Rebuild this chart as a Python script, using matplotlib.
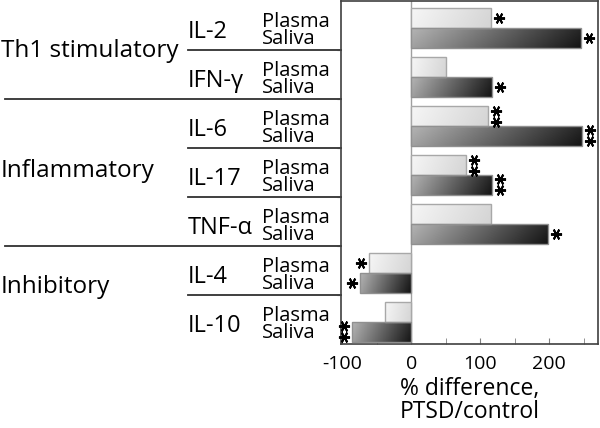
import numpy as np
import matplotlib
matplotlib.use("Agg")
import matplotlib.pyplot as plt
import matplotlib.transforms as mtransforms
from matplotlib.colors import LinearSegmentedColormap

plt.rcParams['font.family'] = ['Open Sans', 'DejaVu Sans']

cytokines = ["IL-2", "IFN-γ", "IL-6", "IL-17", "TNF-α", "IL-4", "IL-10"]
plasma = [115, 51, 112, 80, 116, -62, -38]
saliva = [246, 117, 248, 117, 198, -74, -86]
plasma_stars = [1, 0, 2, 2, 0, 1, 0]
saliva_stars = [1, 1, 2, 2, 1, 1, 2]
groups = ["Th1 stimulatory", "Inflammatory", "Inhibitory"]
group_pos = [0.64, 3.09, 5.46]
sample_labels = ["Plasma", "Saliva"]
xticks_major = [-100, 0, 100, 200]
xticks_minor = [-50, 50, 150, 250]

W, H = 600, 428
fig = plt.figure(figsize=(6, 4.28), dpi=100)
ax = fig.add_axes([341 / W, 1 - 344 / H, (598 - 341) / W, 343 / H])

y = np.arange(len(cytokines))
hgt = 0.4
yp = y - 0.15
ys = y + 0.25

bars_p = ax.barh(yp, plasma, height=hgt, facecolor='none', edgecolor='#a8a8a8', lw=1, zorder=3)
bars_s = ax.barh(ys, saliva, height=hgt, facecolor='none', edgecolor='#909090', lw=1, zorder=3)

cmap_p = LinearSegmentedColormap.from_list('p', ['#f6f6f6', '#d4d4d4'])
cmap_s = LinearSegmentedColormap.from_list('s', ['#b4b4b4', '#141414'])
u = np.linspace(0, 1, 200)[None, :]
v = np.linspace(0, 1, 20)[:, None]
grad = np.clip(0.88 * u + 0.12 * v, 0, 1)

for bars, cmap in ((bars_p, cmap_p), (bars_s, cmap_s)):
    for b in bars:
        x0, w = b.get_x(), b.get_width()
        y0, h = b.get_y(), b.get_height()
        xa, xb = min(x0, x0 + w), max(x0, x0 + w)
        im = ax.imshow(grad, extent=[xa, xb, y0 + h, y0], aspect='auto', cmap=cmap,
                       vmin=0, vmax=1, zorder=2, interpolation='bilinear')
        im.set_clip_path(b)

ax.axvline(0, color='#a0a0a0', lw=1, zorder=1)

ax.set_xlim(-102, 271)
ax.set_ylim(6.5, -0.5)

# asterisks
def draw_stars(vals, ypos, counts):
    for v_, yy, n in zip(vals, ypos, counts):
        if n == 0:
            continue
        sgn = 1 if v_ >= 0 else -1
        dx = 8 * sgn
        offs = [0] if n == 1 else [5.5, -5.5]
        for dy in offs:
            tr = mtransforms.offset_copy(ax.transData, fig=fig, x=dx, y=dy, units='dots')
            ax.plot([v_], [yy], marker=(6, 2, 90), ms=8, mew=1.4, color='black',
                    transform=tr, clip_on=False, zorder=5, ls='none')

draw_stars(plasma, yp, plasma_stars)
draw_stars(saliva, ys, saliva_stars)

# ticks
ax.set_xticks(xticks_major)
ax.set_xticklabels([str(t) for t in xticks_major], fontsize=14)
ax.set_xticks(xticks_minor, minor=True)
ax.tick_params(axis='x', which='both', direction='in', length=4, color='#808080', pad=8)
ax.set_yticks(y[:-1] + 0.5)
ax.set_yticklabels([])
ax.tick_params(axis='y', direction='out', length=3, color='#404040')
for s in ax.spines.values():
    s.set_color('#404040')
    s.set_linewidth(1.2)

ax.set_xlabel("% difference,\nPTSD/control", fontsize=16.5, linespacing=0.95, labelpad=3)

blend = mtransforms.blended_transform_factory(fig.transFigure, ax.transData)

for g, gy in zip(groups, group_pos):
    fig.text(1 / W, gy, g, transform=blend, fontsize=17.5, va='baseline', ha='left')

for i, c in enumerate(cytokines):
    fig.text(188 / W, i + 0.26, c, transform=blend, fontsize=17, va='baseline', ha='left')
    fig.text(262 / W, i + 0.37, "\n".join(sample_labels), transform=blend, fontsize=14.5,
             va='baseline', ha='left', linespacing=0.78)

# separator lines
line_specs = [(0.5, 188), (1.5, 5), (2.5, 188), (3.5, 188), (4.5, 5), (5.5, 188)]
for ly, lx in line_specs:
    ax.plot([lx / W, 341 / W], [ly, ly], transform=blend, color='#303030', lw=1.3,
            clip_on=False, zorder=1)

fig.savefig("out.png", dpi=100)
